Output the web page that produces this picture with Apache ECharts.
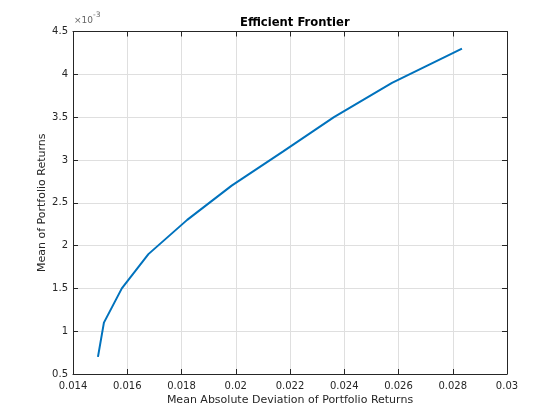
<!DOCTYPE html>
<html>
<head>
<meta charset="utf-8">
<script src="https://cdn.jsdelivr.net/npm/echarts@6/dist/echarts.min.js"></script>
<style>html,body{margin:0;padding:0;background:#fff}#c{width:560px;height:420px}</style>
</head>
<body>
<div id="c"></div>
<script>
// Mean absolute deviation (risk) of each frontier portfolio
var madRisk = [0.01492, 0.01514, 0.01580, 0.01678, 0.01821, 0.01985, 0.02175, 0.02362, 0.02576, 0.02834];
// Mean portfolio return, in units of 1e-3
var meanReturnE3 = [0.70, 1.10, 1.50, 1.90, 2.30, 2.70, 3.10, 3.50, 3.90, 4.30];
var xTicks = [0.014, 0.016, 0.018, 0.02, 0.022, 0.024, 0.026, 0.028, 0.03];
var yTicks = [0.5, 1, 1.5, 2, 2.5, 3, 3.5, 4, 4.5];

var FONT = 'DejaVu Sans';
var DARK = '#262626';
var data = madRisk.map(function (x, i) { return [x, meanReturnE3[i]]; });

var chart = echarts.init(document.getElementById('c'), null, {renderer: 'canvas'});
var axisCommon = {
  axisLine: {show: true, onZero: false, lineStyle: {color: DARK, width: 1}},
  axisTick: {show: true, inside: true, length: 5, lineStyle: {color: DARK}},
  splitLine: {show: false}
};
chart.setOption({
  animation: false,
  backgroundColor: '#ffffff',
  title: {
    text: 'Efficient Frontier', left: 235, top: 12,
    textStyle: {fontFamily: FONT, fontSize: 11.6, fontWeight: 'bold', color: '#000'}
  },
  grid: {left: 73, right: 53, top: 31.5, bottom: 46, containLabel: false},
  xAxis: [
    Object.assign({}, axisCommon, {
      type: 'value', min: xTicks[0], max: xTicks[xTicks.length - 1], interval: 0.002,
      position: 'bottom',
      name: 'Mean Absolute Deviation of Portfolio Returns', nameLocation: 'middle', nameGap: 21,
      nameMoveOverlap: false,
      nameTextStyle: {fontFamily: FONT, fontSize: 11, color: DARK},
      axisLabel: {fontFamily: FONT, fontSize: 10, color: DARK, margin: 7,
        formatter: function (v) { return String(parseFloat(v.toFixed(4))); }},
      splitLine: {show: true, lineStyle: {color: '#dfdfdf', width: 1}}
    }),
    Object.assign({}, axisCommon, {
      type: 'value', min: xTicks[0], max: xTicks[xTicks.length - 1], interval: 0.002,
      position: 'top', axisLabel: {show: false}
    })
  ],
  yAxis: [
    Object.assign({}, axisCommon, {
      type: 'value', min: yTicks[0], max: yTicks[yTicks.length - 1], interval: 0.5,
      position: 'left',
      name: 'Mean of Portfolio Returns', nameLocation: 'middle', nameGap: 25,
      nameMoveOverlap: false,
      nameTextStyle: {fontFamily: FONT, fontSize: 11, color: DARK},
      axisLabel: {fontFamily: FONT, fontSize: 10, color: DARK, margin: 5,
        formatter: function (v) { return String(parseFloat(v.toFixed(3))); }},
      splitLine: {show: true, lineStyle: {color: '#dfdfdf', width: 1}}
    }),
    Object.assign({}, axisCommon, {
      type: 'value', min: yTicks[0], max: yTicks[yTicks.length - 1], interval: 0.5,
      position: 'right', axisLabel: {show: false}
    })
  ],
  graphic: [{
    type: 'text', left: 74, top: 11,
    style: {
      text: '{a|×10}{b|-3}',
      rich: {
        a: {fontFamily: FONT, fontSize: 9, fill: '#666', verticalAlign: 'bottom'},
        b: {fontFamily: FONT, fontSize: 7.5, fill: '#666', verticalAlign: 'top', padding: [0, 0, 6, 0]}
      }
    }
  }],
  series: [{
    type: 'line', data: data, xAxisIndex: 0, yAxisIndex: 0,
    showSymbol: false, symbol: 'none',
    lineStyle: {color: '#0072BD', width: 2},
    itemStyle: {color: '#0072BD'}
  }]
});
</script>
</body>
</html>
